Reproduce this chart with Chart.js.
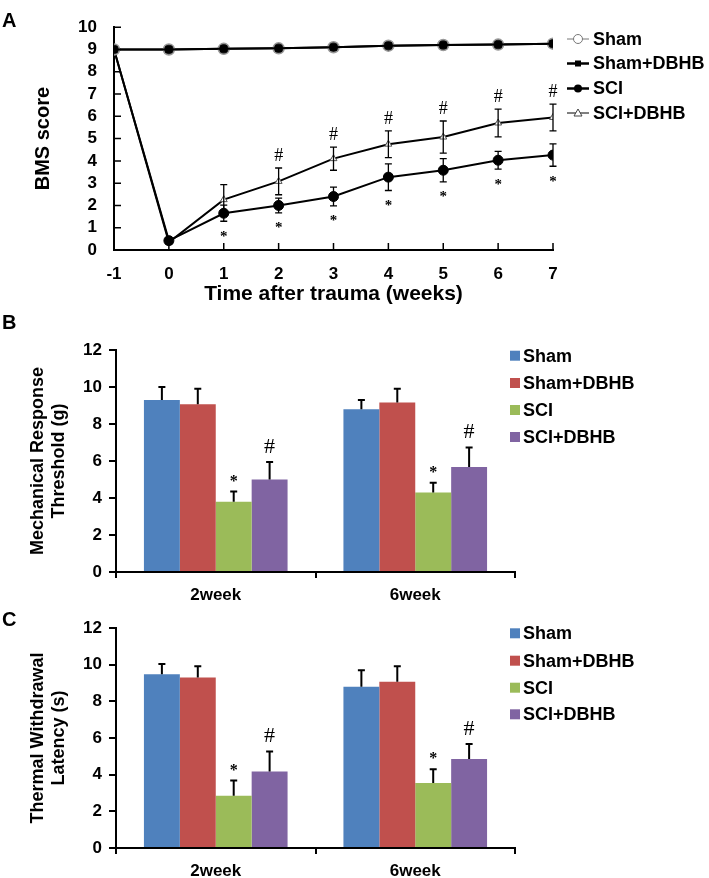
<!DOCTYPE html>
<html>
<head>
<meta charset="utf-8">
<script src="https://cdn.jsdelivr.net/npm/chart.js@4.4.0/dist/chart.umd.min.js"></script>
<style>
  body { margin: 0; background: #fff; }
  #page { position: relative; width: 709px; height: 878px; overflow: hidden; font-family: "Liberation Sans", Arial, sans-serif; }
  #page canvas { position: absolute; left: 0; }
  .tag { position: absolute; left: 2px; font-weight: bold; font-size: 20px; line-height: 1; }
</style>
</head>
<body>
<div id="page">
  <canvas id="chartA" style="top:0" width="709" height="305"></canvas>
  <canvas id="chartB" style="top:305px" width="709" height="300"></canvas>
  <canvas id="chartC" style="top:605px" width="709" height="273"></canvas>
  <div class="tag" style="top:10px">A</div>
  <div class="tag" style="top:312px">B</div>
  <div class="tag" style="top:609px">C</div>
</div>
<script>
// panel A - BMS score over time
const weeks = [-1, 0, 1, 2, 3, 4, 5, 6, 7];
const bmsSham = [9, 9, 9.03, 9.05, 9.1, 9.17, 9.2, 9.22, 9.26];
const bmsShamDbhb = [9, 9, 9.03, 9.05, 9.1, 9.17, 9.2, 9.22, 9.26];
const bmsSci = [9, 0.42, 1.65, 2.0, 2.4, 3.27, 3.58, 4.03, 4.26];
const bmsSciErr = [0, 0, 0.36, 0.33, 0.42, 0.6, 0.52, 0.4, 0.5];
const bmsSciDbhb = [9, 0.35, 2.26, 3.08, 4.1, 4.75, 5.07, 5.7, 5.95];
const bmsSciDbhbErr = [0, 0, 0.67, 0.6, 0.52, 0.6, 0.72, 0.62, 0.6];
const bmsStars = [0, 0, 1, 1, 1, 1, 1, 1, 1];
const bmsHashes = [0, 0, 0, 1, 1, 1, 1, 1, 1];

// panels B and C
const groups = ['Sham', 'Sham+DBHB', 'SCI', 'SCI+DBHB'];
const groupColors = ['#4F81BD', '#C0504D', '#9BBB59', '#8064A2'];
const timepoints = ['2week', '6week'];

const mechSham = [9.3, 8.8];
const mechShamErr = [0.7, 0.5];
const mechShamDbhb = [9.07, 9.16];
const mechShamDbhbErr = [0.83, 0.74];
const mechSci = [3.8, 4.3];
const mechSciErr = [0.55, 0.52];
const mechSciDbhb = [5.0, 5.67];
const mechSciDbhbErr = [0.94, 1.06];

const thermSham = [9.48, 8.8];
const thermShamErr = [0.55, 0.9];
const thermShamDbhb = [9.3, 9.07];
const thermShamDbhbErr = [0.62, 0.85];
const thermSci = [2.85, 3.54];
const thermSciErr = [0.83, 0.76];
const thermSciDbhb = [4.17, 4.86];
const thermSciDbhbErr = [1.09, 0.81];

const barStars = [1, 1];
const barHashes = [1, 1];

const FONT = '"Liberation Sans", Arial, sans-serif';
Chart.defaults.font.family = FONT;
Chart.defaults.color = '#000';

function errorBars(sets, cap, width, upOnly) {
    return {
        id: 'errorBars',
        afterDatasetsDraw(chart) {
            const ctx = chart.ctx;
            const y = chart.scales.y;
            ctx.save();
            ctx.strokeStyle = '#000';
            ctx.lineWidth = width;
            sets.forEach(([di, values, errs]) => {
                const meta = chart.getDatasetMeta(di);
                errs.forEach((e, i) => {
                    if (!e) return;
                    const x = meta.data[i].x;
                    const top = y.getPixelForValue(values[i] + e);
                    const bot = y.getPixelForValue(upOnly ? values[i] : values[i] - e);
                    ctx.beginPath();
                    ctx.moveTo(x, top);
                    ctx.lineTo(x, bot);
                    ctx.moveTo(x - cap, top);
                    ctx.lineTo(x + cap, top);
                    if (!upOnly) {
                        ctx.moveTo(x - cap, bot);
                        ctx.lineTo(x + cap, bot);
                    }
                    ctx.stroke();
                });
            });
            ctx.restore();
        }
    };
}

// * and # significance marks, placed off the error bar ends
function sigMarks(marks) {
    return {
        id: 'sigMarks',
        afterDatasetsDraw(chart) {
            const ctx = chart.ctx;
            const y = chart.scales.y;
            ctx.save();
            ctx.fillStyle = '#000';
            ctx.textAlign = 'center';
            ctx.textBaseline = 'alphabetic';
            marks.forEach((m) => {
                const meta = chart.getDatasetMeta(m.dataset);
                ctx.font = m.font;
                m.flags.forEach((f, i) => {
                    if (!f) return;
                    const x = meta.data[i].x;
                    const edge = m.below
                        ? y.getPixelForValue(m.values[i] - m.errs[i])
                        : y.getPixelForValue(m.values[i] + m.errs[i]);
                    ctx.fillText(m.text, x, edge + m.offset + m.shift);
                });
            });
            ctx.restore();
        }
    };
}

// ticks pointing into the plot (panel A)
const innerTicks = {
    id: 'innerTicks',
    beforeDatasetsDraw(chart) {
        const {ctx, chartArea: a, scales: {x, y}} = chart;
        ctx.save();
        ctx.strokeStyle = '#000';
        ctx.lineWidth = 1.5;
        ctx.beginPath();
        x.ticks.forEach((t) => {
            if (t.value <= x.min) return;
            const px = x.getPixelForValue(t.value);
            ctx.moveTo(px, a.bottom);
            ctx.lineTo(px, a.bottom - 7);
        });
        y.ticks.forEach((t) => {
            if (t.value <= y.min) return;
            const py = y.getPixelForValue(t.value);
            ctx.moveTo(a.left, py);
            ctx.lineTo(a.left + 7, py);
        });
        ctx.stroke();
        ctx.restore();
    }
};

function sideLegend(x, textX, rows, drawKey) {
    return {
        id: 'sideLegend',
        afterDraw(chart) {
            const ctx = chart.ctx;
            ctx.save();
            chart.data.datasets.forEach((ds, i) => {
                drawKey(ctx, i, x, rows[i]);
                ctx.font = 'bold 18px ' + FONT;
                ctx.textBaseline = 'middle';
                ctx.textAlign = 'left';
                ctx.fillStyle = '#000';
                ctx.fillText(ds.label, textX, rows[i] + 1);
            });
            ctx.restore();
        }
    };
}

function lineKey(ctx, i, x, y) {
    ctx.save();
    ctx.strokeStyle = i === 0 ? '#777' : '#000';
    ctx.lineWidth = (i === 0 || i === 3) ? 1 : 2.5;
    ctx.beginPath();
    ctx.moveTo(x, y);
    ctx.lineTo(x + 22, y);
    ctx.stroke();
    const cx = x + 11;
    ctx.lineWidth = 1;
    if (i === 0) {
        ctx.fillStyle = '#fff';
        ctx.beginPath();
        ctx.arc(cx, y, 4.5, 0, Math.PI * 2);
        ctx.fill();
        ctx.stroke();
    } else if (i === 1) {
        ctx.fillStyle = '#000';
        ctx.fillRect(cx - 3, y - 3, 6, 6);
    } else if (i === 2) {
        ctx.fillStyle = '#000';
        ctx.beginPath();
        ctx.arc(cx, y, 4, 0, Math.PI * 2);
        ctx.fill();
    } else {
        ctx.fillStyle = '#fff';
        ctx.strokeStyle = '#444';
        ctx.beginPath();
        ctx.moveTo(cx, y - 4);
        ctx.lineTo(cx + 4, y + 3);
        ctx.lineTo(cx - 4, y + 3);
        ctx.closePath();
        ctx.fill();
        ctx.stroke();
    }
    ctx.restore();
}

function boxKey(ctx, i, x, y) {
    ctx.fillStyle = groupColors[i];
    ctx.fillRect(x, y - 5, 10, 10);
}

function points(values) {
    return weeks.map((w, i) => ({x: w, y: values[i]}));
}

function lineDataset(label, values, extra) {
    return Object.assign({
        label: label,
        data: points(values),
        borderColor: '#000',
        borderWidth: 2,
        tension: 0,
        pointBorderColor: '#000',
        pointBackgroundColor: '#000',
        pointBorderWidth: 1
    }, extra);
}

new Chart(document.getElementById('chartA'), {
    type: 'line',
    data: {
        datasets: [
            lineDataset(groups[0], bmsSham, {pointStyle: 'circle', pointRadius: 5.5, pointBackgroundColor: '#222', pointBorderColor: '#999', pointBorderWidth: 1.5, order: 2}),
            lineDataset(groups[1], bmsShamDbhb, {pointStyle: 'rect', pointRadius: 4.5, order: 1}),
            lineDataset(groups[2], bmsSci, {pointStyle: 'circle', pointRadius: 5, order: 3}),
            lineDataset(groups[3], bmsSciDbhb, {pointStyle: 'triangle', pointRadius: 4, pointBackgroundColor: '#fff', pointBorderColor: '#555', order: 4})
        ]
    },
    options: {
        responsive: false,
        animation: false,
        layout: {padding: {top: 10, right: 156, left: 0, bottom: 0}},
        plugins: {legend: {display: false}, tooltip: {enabled: false}},
        scales: {
            x: {
                type: 'linear',
                min: -1,
                max: 7,
                ticks: {stepSize: 1, autoSkip: false, padding: 14, font: {size: 17, weight: 'bold'}},
                grid: {drawOnChartArea: false, drawTicks: false},
                border: {color: '#000', width: 2},
                title: {display: true, text: 'Time after trauma (weeks)', font: {size: 21, weight: 'bold', lineHeight: 1}, padding: {top: 0, bottom: 0}},
                afterFit: (s) => { s.height = 55; }
            },
            y: {
                min: 0,
                max: 10,
                ticks: {stepSize: 1, autoSkip: false, padding: 17, font: {size: 17, weight: 'bold'}},
                grid: {drawOnChartArea: false, drawTicks: false},
                border: {color: '#000', width: 2},
                title: {display: true, text: 'BMS score', font: {size: 20, weight: 'bold', lineHeight: 1}, padding: {top: 33, bottom: 0}},
                afterFit: (s) => { s.width = 114; }
            }
        }
    },
    plugins: [
        innerTicks,
        errorBars([[2, bmsSci, bmsSciErr], [3, bmsSciDbhb, bmsSciDbhbErr]], 3.5, 1.3, false),
        sigMarks([
            {dataset: 2, values: bmsSci, errs: bmsSciErr, flags: bmsStars, text: '*', below: true, offset: 12.5, shift: 7, font: 'bold 15px "Liberation Serif", serif'},
            {dataset: 3, values: bmsSciDbhb, errs: bmsSciDbhbErr, flags: bmsHashes, text: '#', below: false, offset: -13.5, shift: 6.5, font: '18px "Liberation Serif", serif'}
        ]),
        sideLegend(567, 593, [39, 63.5, 88.5, 113], lineKey)
    ]
});

function barChart(id, series, errs, yTitle, top, bottomH) {
    const datasets = groups.map((g, i) => ({
        label: g,
        data: series[i],
        backgroundColor: groupColors[i],
        borderWidth: 0,
        categoryPercentage: 0.72,
        barPercentage: 1.0
    }));
    return new Chart(document.getElementById(id), {
        type: 'bar',
        data: {labels: timepoints, datasets: datasets},
        options: {
            responsive: false,
            animation: false,
            layout: {padding: {top: top, right: 194, left: 0, bottom: 0}},
            plugins: {legend: {display: false}, tooltip: {enabled: false}},
            scales: {
                x: {
                    ticks: {padding: 7, font: {size: 17, weight: 'bold'}},
                    grid: {drawOnChartArea: false, drawTicks: true, tickLength: 6, color: '#000', lineWidth: 2},
                    border: {color: '#000', width: 2},
                    afterFit: (s) => { s.height = bottomH; }
                },
                y: {
                    min: 0,
                    max: 12,
                    ticks: {stepSize: 2, autoSkip: false, padding: 7, font: {size: 17, weight: 'bold'}},
                    grid: {drawOnChartArea: false, drawTicks: true, tickLength: 7, color: '#000', lineWidth: 2},
                    border: {color: '#000', width: 2},
                    title: {display: true, text: yTitle, font: {size: 18, weight: 'bold', lineHeight: 1.2}, padding: {top: 27, bottom: 0}},
                    afterFit: (s) => { s.width = 116; }
                }
            }
        },
        plugins: [
            errorBars(series.map((v, i) => [i, v, errs[i]]), 3.5, 2, true),
            sigMarks([
                {dataset: 2, values: series[2], errs: errs[2], flags: barStars, text: '*', below: false, offset: -13, shift: 7, font: 'bold 16px "Liberation Serif", serif'},
                {dataset: 3, values: series[3], errs: errs[3], flags: barHashes, text: '#', below: false, offset: -17, shift: 7.5, font: '22px "Liberation Serif", serif'}
            ]),
            sideLegend(510, 523, top === 45 ? [50.7, 78, 105, 132] : [28.3, 55.7, 82.7, 109.3], boxKey)
        ]
    });
}

barChart('chartB',
    [mechSham, mechShamDbhb, mechSci, mechSciDbhb],
    [mechShamErr, mechShamDbhbErr, mechSciErr, mechSciDbhbErr],
    ['Mechanical Response', 'Threshold (g)'], 45, 33);

barChart('chartC',
    [thermSham, thermShamDbhb, thermSci, thermSciDbhb],
    [thermShamErr, thermShamDbhbErr, thermSciErr, thermSciDbhbErr],
    ['Thermal Withdrawal', 'Latency (s)'], 23, 30);
</script>
</body>
</html>
